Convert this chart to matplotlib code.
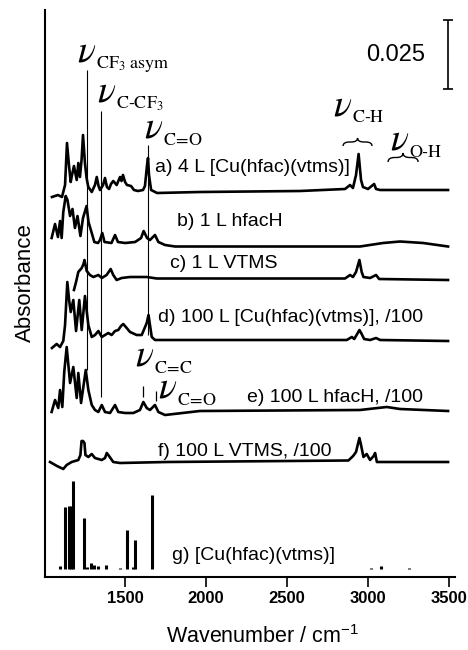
import matplotlib
matplotlib.use("Agg")
import matplotlib.pyplot as plt
from matplotlib.path import Path
from matplotlib.patches import PathPatch

plt.rcParams['font.family'] = ['Liberation Sans', 'DejaVu Sans']
plt.rcParams['mathtext.fontset'] = 'stix'

# ---------------- data (wavenumber / cm-1, stacked absorbance, arbitrary offset units) -------------
a_wn = [1048, 1085, 1110, 1129, 1141, 1153, 1164, 1172, 1184, 1201, 1211, 1221, 1231, 1240, 1252, 1262,
        1273, 1294, 1314, 1325, 1336, 1345, 1364, 1376, 1388, 1401, 1413, 1427, 1448, 1469, 1478, 1487,
        1500, 1512, 1537, 1555, 1580, 1611, 1623, 1636, 1642, 1648, 1661, 1698, 1963, 2582, 2860, 2891,
        2909, 2928, 2944, 2959, 2971, 3002, 3040, 3052, 3077, 3497]
a_abs = [380, 382, 380, 392, 434, 412, 395, 402, 411, 397, 414, 400, 417, 442, 414, 399,
         390, 385, 392, 400, 391, 387, 392, 399, 390, 388, 393, 396, 392, 400, 396, 402,
         395, 392, 391, 387, 386, 387, 391, 412, 419, 402, 387, 384, 385, 386, 388, 392,
         389, 402, 423, 397, 390, 388, 393, 388, 387, 387]

b_wn = [1046, 1067, 1085, 1098, 1108, 1118, 1133, 1144, 1160, 1175, 1190, 1206, 1224, 1240, 1262, 1274,
        1294, 1310, 1333, 1345, 1359, 1373, 1416, 1438, 1456, 1500, 1562, 1599, 1615, 1636, 1654, 1685,
        1706, 1747, 1809, 2273, 2953, 3095, 3200, 3343, 3497]
b_abs = [339, 353, 340, 356, 339, 365, 381, 377, 361, 368, 349, 361, 341, 359, 371, 355,
         344, 335, 334, 337, 344, 335, 334, 342, 335, 334, 335, 339, 346, 339, 337, 342,
         335, 332, 330.5, 330.5, 330.5, 334, 335.5, 334, 330.5]

c_wn = [1184, 1197, 1211, 1232, 1243, 1249, 1263, 1283, 1304, 1335, 1356, 1386, 1411, 1427, 1448, 1479,
        1531, 1634, 1696, 2273, 2860, 2891, 2909, 2928, 2949, 2963, 2974, 3015, 3052, 3071, 3497]
c_abs = [287, 295, 305, 309, 313, 317, 306, 302, 300, 302, 299, 302, 308, 302, 297, 299,
         300, 300, 298.5, 298.5, 298.5, 302, 300, 305, 317, 305, 300, 299, 302, 298, 297]

d_wn = [1048, 1077, 1098, 1118, 1129, 1143, 1154, 1164, 1180, 1197, 1217, 1232, 1252, 1273, 1294, 1314,
        1335, 1356, 1396, 1417, 1438, 1458, 1475, 1489, 1510, 1531, 1572, 1603, 1634, 1645, 1654, 1665,
        1685, 2273, 2871, 2902, 2917, 2935, 2949, 2963, 2978, 3015, 3052, 3077, 3497]
d_abs = [229, 233, 230, 236, 252, 295, 277, 265, 277, 246, 277, 247, 281, 252, 240, 242,
         246, 240, 244, 242, 246, 247, 251, 253, 249, 245, 242, 242, 254, 262, 252, 240,
         237, 237, 237, 240, 238, 243, 247, 243, 238, 237, 239, 237, 236]

e_wn = [1046, 1067, 1087, 1098, 1112, 1124, 1139, 1160, 1180, 1201, 1211, 1228, 1257, 1273, 1294, 1314,
        1335, 1356, 1376, 1407, 1438, 1458, 1500, 1551, 1592, 1613, 1634, 1654, 1685, 1706, 1747, 1963,
        2952, 3118, 3200, 3497]
e_abs = [165, 177, 169, 187, 170, 205, 230, 194, 210, 179, 204, 174, 207, 187, 172, 167,
         165, 172, 165, 164, 172, 165, 164, 164, 167, 175, 169, 167, 172, 165, 162, 166,
         167, 170, 168, 166]

f_wn = [1036, 1079, 1118, 1139, 1170, 1211, 1224, 1231, 1240, 1249, 1255, 1273, 1294, 1314, 1356, 1376,
        1387, 1401, 1427, 1469, 1758, 2881, 2910, 2928, 2949, 2959, 2974, 2994, 3015, 3037, 3046, 3057,
        3497]
f_abs = [115, 111, 108, 112, 115, 117, 122, 136, 136, 134, 122, 120, 123, 119, 117, 119,
         124, 121, 115, 114, 115, 116.5, 121, 125, 139, 132, 120, 123, 117, 121, 124, 115,
         115]

# g) calculated stick spectrum
g_base = 8
g_wn = [1098, 1127, 1155, 1165, 1178, 1246, 1262, 1290, 1310, 1330, 1382, 1469, 1510, 1548, 1562, 1665,
        3020, 3083, 3253]
g_int = [3, 62, 63, 63, 88, 51, 2, 6, 4, 3, 4, 1, 39, 2, 29, 74, 1, 3, 1]

# spectrum labels
spec_labels = ["a) 4 L [Cu(hfac)(vtms)]", "b) 1 L hfacH", "c) 1 L VTMS",
               "d) 100 L [Cu(hfac)(vtms)], /100", "e) 100 L hfacH, /100",
               "f) 100 L VTMS, /100", "g) [Cu(hfac)(vtms)]"]
label_x = [1685, 1821, 1778, 1704, 2254, 1704, 1790]
label_y = [409, 355, 314, 259, 180, 125, 22]

# band assignment lines
band_wn = [1265, 1351, 1642]
band_top = [507, 466, 432]
band_bot = [207, 180, 242]

# band labels (nu + subscript)
nu_subs = [r'$\mathrm{CF_3\ asym}$', r'$\mathrm{C\text{-}CF_3}$', r'$\mathrm{C\!=\!O}$',
           r'$\mathrm{C\text{-}H}$', r'$\mathrm{O\text{-}H}$',
           r'$\mathrm{C\!=\!C}$', r'$\mathrm{C\!=\!O}$']
nu_x = [1203, 1327, 1617, 2786, 3139, 1561, 1704]
nu_y = [516, 475, 439, 462, 427, 211, 179]

# ---------------- figure ----------------
fig = plt.figure(figsize=(4.68, 6.5), dpi=100)
ax = fig.add_axes([45/468, 73/650, 410/468, 567/650])
ax.set_xlim(1005, 3540)
ax.set_ylim(0, 567)

lw = 1.9
for wn, ab in [(a_wn, a_abs), (b_wn, b_abs), (c_wn, c_abs), (d_wn, d_abs),
               (e_wn, e_abs), (f_wn, f_abs)]:
    ax.plot(wn, ab, color='black', lw=lw, solid_joinstyle='round')

ax.vlines(g_wn, g_base, [g_base + v for v in g_int], color='black', lw=2.2)

ax.vlines(band_wn, band_bot, band_top, color='black', lw=0.8)

for t, x, y in zip(spec_labels, label_x, label_y):
    ax.text(x, y, t, fontsize=14, ha='left', va='center')

for t, x, y in zip(nu_subs, nu_x, nu_y):
    ax.text(x, y, r'$\nu$', fontsize=27, ha='left', va='baseline')
    ax.annotate(t, xy=(x, y), xytext=(13.5, -5), textcoords='offset points',
                fontsize=13, ha='left', va='baseline')

# small ticks in e)
ax.vlines([1613, 1690], [180, 176], [191, 186], color='black', lw=0.9)

# braces
def brace(x0, x1, y0, h):
    xm = (x0 + x1) / 2
    q = (x1 - x0) * 0.22
    verts = [(x0, y0), (x0, y0 + h * 0.5), (x0 + q, y0 + h * 0.5),
             (xm - q, y0 + h * 0.5), (xm, y0 + h * 0.5), (xm, y0 + h),
             (xm, y0 + h * 0.5), (xm + q, y0 + h * 0.5),
             (x1 - q, y0 + h * 0.5), (x1, y0 + h * 0.5), (x1, y0)]
    codes = [Path.MOVETO, Path.CURVE3, Path.CURVE3, Path.LINETO, Path.CURVE3, Path.CURVE3,
             Path.CURVE3, Path.CURVE3, Path.LINETO, Path.CURVE3, Path.CURVE3]
    ax.add_patch(PathPatch(Path(verts, codes), fill=False, lw=1.0, color='black'))

brace(2848, 3027, 431, 8)
brace(3126, 3312, 415, 9)

# scale bar
ax.vlines(3497, 488, 557, color='black', lw=1.2)
ax.hlines([488, 557], 3467, 3527, color='black', lw=1.2)
ax.text(3355, 522, "0.025", fontsize=17, ha='right', va='center')

# axes styling
for s in ['top', 'right']:
    ax.spines[s].set_visible(False)
ax.spines['left'].set_linewidth(1.5)
ax.spines['bottom'].set_linewidth(1.5)
ax.set_yticks([])
ax.set_xticks([1500, 2000, 2500, 3000, 3500])
ax.tick_params(axis='x', direction='out', length=7, width=1.2, pad=3, labelsize=12)
for lab in ax.get_xticklabels():
    lab.set_fontweight('bold')

fig.text(263/468, 1 - 637/650, r'Wavenumber / cm$^{\mathregular{-1}}$', fontsize=15.5,
         ha='center', va='center')
fig.text(25/468, 1 - 283/650, 'Absorbance', fontsize=16, rotation=90, ha='center', va='center')

fig.savefig('out.png', dpi=100)
